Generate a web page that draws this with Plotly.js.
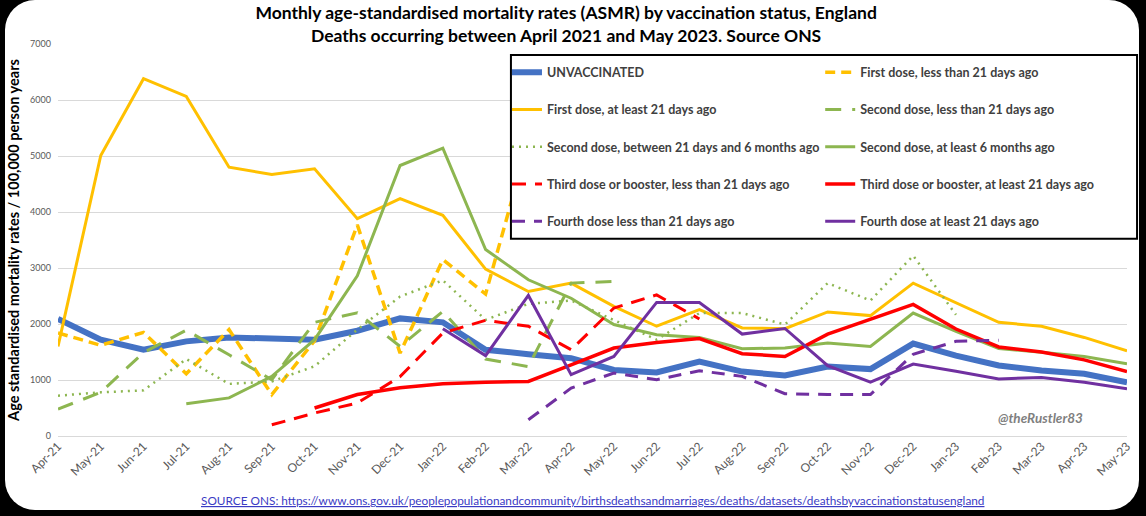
<!DOCTYPE html>
<html>
<head>
<meta charset="utf-8">
<script src="https://cdn.plot.ly/plotly-3.0.1.min.js"></script>
<style>
  html, body { margin: 0; padding: 0; background: #000; }
  #wrap { position: relative; width: 1146px; height: 516px; background: #000; overflow: hidden; }
  #panel { position: absolute; left: 5px; top: 0px; width: 1134px; height: 510px; background: #fff; border-radius: 30px; }
  #chart { position: absolute; left: 0; top: 0; width: 1146px; height: 516px; }
</style>
</head>
<body>
<div id="wrap">
  <div id="panel"></div>
  <div id="chart"></div>
</div>
<script>
// Categories (months)
const months = ["Apr-21","May-21","Jun-21","Jul-21","Aug-21","Sep-21","Oct-21","Nov-21","Dec-21",
  "Jan-22","Feb-22","Mar-22","Apr-22","May-22","Jun-22","Jul-22","Aug-22","Sep-22","Oct-22","Nov-22","Dec-22",
  "Jan-23","Feb-23","Mar-23","Apr-23","May-23"];

// Series values (ASMR per 100,000 person years); null = no data
const unvaccinated = [2090,1720,1540,1690,1760,1730,1720,1880,2100,2030,1540,1460,1390,1180,1135,1330,1150,1080,1240,1195,1650,1435,1260,1170,1110,957];
const firstLt21 = [1840,1620,1850,1110,1900,740,1700,3770,1480,3150,2535,5270,null,null,null,null,null,null,null,null,null,null,null,null,null,null];
const firstGe21 = [1600,5010,6380,6065,4800,4670,4770,3880,4240,3940,2980,2580,2730,2315,1960,2255,1930,1915,2215,2150,2730,2380,2030,1960,1760,1520];
const secondLt21 = [480,780,1490,1890,1450,1005,2030,2200,1600,2225,1375,1240,2730,2760,null,null,null,null,null,null,null,null,null,null,null,null];
const secondMid = [720,780,815,1375,930,975,1245,1900,2490,2780,2075,2360,2420,2065,1720,2195,2195,1990,2730,2420,3220,2165,null,null,null,null];
const secondGe6m = [null,null,null,577,680,1065,1720,2860,4830,5140,3330,2790,2460,1990,1810,1760,1560,1570,1660,1600,2195,1870,1560,1495,1420,1290];
const thirdLt21 = [null,null,null,null,null,200,410,590,1060,1840,2065,1960,1540,2285,2520,2090,null,null,null,null,null,null,null,null,null,null];
const thirdGe21 = [null,null,null,null,null,null,500,740,860,935,960,975,1270,1570,1670,1740,1470,1420,1820,2090,2350,1910,1590,1500,1360,1150];
const fourthLt21 = [null,null,null,null,null,null,null,null,null,null,null,290,855,1125,1005,1165,1065,755,740,740,1460,1690,1710,null,null,null];
const fourthGe21 = [null,null,null,null,null,null,null,null,null,1915,1435,2510,1095,1420,2385,2385,1820,1920,1255,960,1285,1155,1020,1045,960,845];

const yTicks = [0,1000,2000,3000,4000,5000,6000,7000];

const C_BLUE = "#4472C4", C_YEL = "#FFC000", C_GRN = "#8DB650", C_RED = "#FF0000", C_PUR = "#7030A0";

function tr(name, y, color, width, dash, legend) {
  return {
    type: "scatter", mode: "lines", name: name, x: months, y: y,
    line: {color: color, width: width, dash: dash},
    connectgaps: false, legend: legend, legendgroup: name, hoverinfo: "skip"
  };
}

const data = [
  tr("UNVACCINATED", unvaccinated, C_BLUE, 6, "solid", "legend"),
  tr("First dose, less than 21 days ago", firstLt21, C_YEL, 3.5, "10px,6px", "legend2"),
  tr("First dose, at least 21 days ago", firstGe21, C_YEL, 3, "solid", "legend"),
  tr("Second dose, less than 21 days ago", secondLt21, C_GRN, 3, "16px,11px", "legend2"),
  tr("Second dose, between 21 days and 6 months ago", secondMid, C_GRN, 2.5, "2px,5px", "legend"),
  tr("Second dose, at least 6 months ago", secondGe6m, C_GRN, 3, "solid", "legend2"),
  tr("Third dose or booster, less than 21 days ago", thirdLt21, C_RED, 3, "14px,9px", "legend"),
  tr("Third dose or booster, at least 21 days ago", thirdGe21, C_RED, 3.5, "solid", "legend2"),
  tr("Fourth dose less than 21 days ago", fourthLt21, C_PUR, 3, "13px,9px", "legend"),
  tr("Fourth dose at least 21 days ago", fourthGe21, C_PUR, 3, "solid", "legend2")
];

const FONT = "Lato, 'Open Sans', sans-serif";
const legendCommon = {
  orientation: "v", xanchor: "left", yanchor: "top",
  bgcolor: "rgba(0,0,0,0)", borderwidth: 0,
  font: {family: FONT, size: 12.5, color: "#404040", weight: "bold"},
  itemwidth: 30, traceorder: "grouped", tracegroupgap: 18,
  itemclick: false, itemdoubleclick: false
};

const layout = {
  width: 1146, height: 516,
  paper_bgcolor: "rgba(0,0,0,0)", plot_bgcolor: "rgba(0,0,0,0)",
  margin: {l: 58, r: 19, t: 44, b: 80},
  font: {family: FONT},
  title: {
    text: "Monthly age-standardised mortality rates (ASMR) by vaccination status, England<br>Deaths occurring between April 2021 and May 2023. Source ONS",
    font: {family: FONT, size: 17.5, color: "#000", weight: "bold"},
    x: 0.494, xanchor: "center", xref: "container", y: 0.963, yanchor: "top", yref: "container"
  },
  xaxis: {
    type: "category", categoryorder: "array", categoryarray: months,
    range: [0, 25], showgrid: false, zeroline: false, showline: false,
    ticks: "", tickangle: -45, fixedrange: true,
    tickfont: {family: FONT, size: 12, color: "#595959"}
  },
  yaxis: {
    range: [0, 7000], tickvals: yTicks, ticktext: yTicks.map(String),
    showgrid: true, gridcolor: "#D9D9D9", gridwidth: 1,
    zeroline: true, zerolinecolor: "#D9D9D9", zerolinewidth: 1,
    showline: false, ticks: "", fixedrange: true, ticklabelstandoff: 6,
    tickfont: {family: FONT, size: 9, color: "#595959"},
    title: {
      text: "Age standardised mortality rates / 100,000 person years",
      font: {family: FONT, size: 14.5, color: "#000", weight: "bold"},
      standoff: 7
    },
    automargin: false
  },
  showlegend: true,
  legend: Object.assign({}, legendCommon, {x: 0.420, y: 0.965}),
  legend2: Object.assign({}, legendCommon, {x: 0.713, y: 0.965}),
  shapes: [{
    type: "rect", xref: "paper", yref: "paper",
    x0: 0.4237, x1: 1.0094, y0: 0.503, y1: 0.972,
    line: {color: "#000", width: 2}, fillcolor: "#fff", layer: "above"
  }],
  annotations: [
    {
      text: "@theRustler83", xref: "paper", yref: "paper", x: 0.919, y: 0.045,
      xanchor: "center", yanchor: "middle", showarrow: false,
      font: {family: FONT, size: 13.5, color: "#7F7F7F", weight: "bold", style: "italic"}
    },
    {
      text: "SOURCE ONS: https://www.ons.gov.uk/peoplepopulationandcommunity/birthsdeathsandmarriages/deaths/datasets/deathsbyvaccinationstatusengland",
      xref: "paper", yref: "paper", x: 0.5, y: -0.165, xanchor: "center", yanchor: "middle",
      showarrow: false,
      font: {family: FONT, size: 11.8, color: "#3B3BC4", lineposition: "under"}
    }
  ]
};

Plotly.newPlot("chart", data, layout, {staticPlot: true, displayModeBar: false});
</script>
</body>
</html>
